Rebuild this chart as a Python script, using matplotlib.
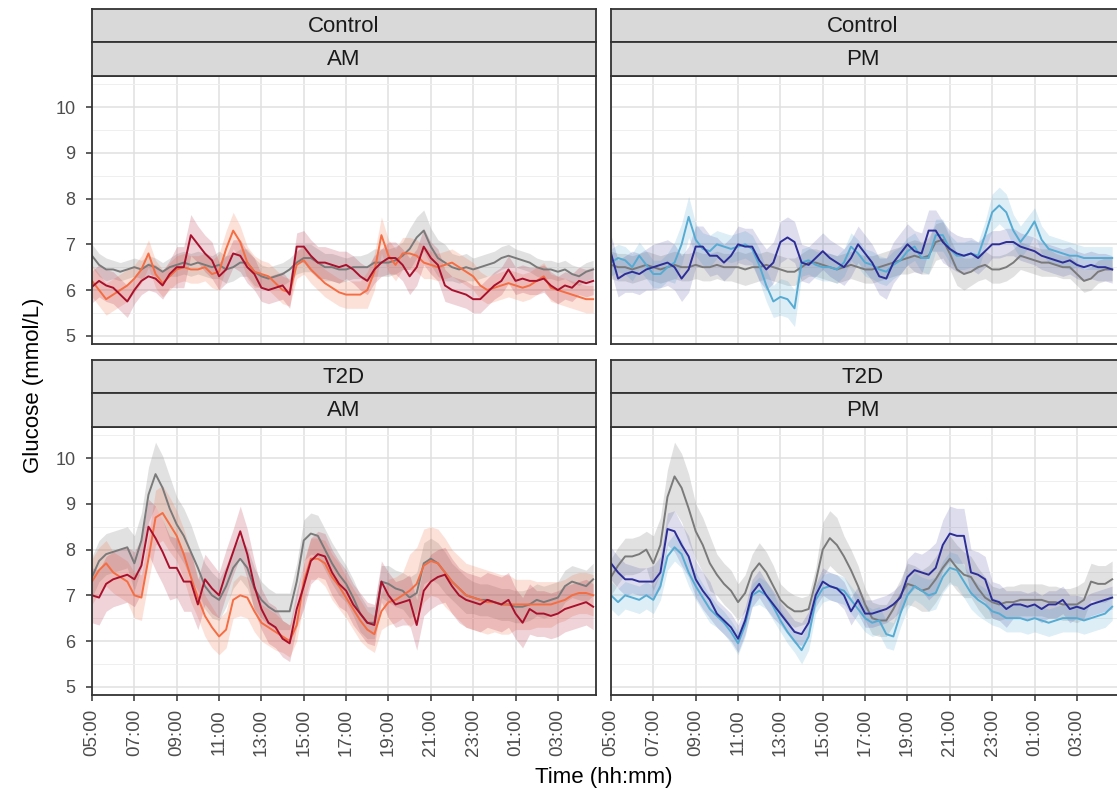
import numpy as np
import matplotlib
matplotlib.use("Agg")
import matplotlib.pyplot as plt

plt.rcParams['font.family'] = ['Liberation Sans', 'DejaVu Sans']

# ---------------- data ----------------
# 20-minute steps starting at 05:00 (hours since 05:00)
hours = np.arange(72) / 3.0
tick_hours = [0, 2, 4, 6, 8, 10, 12, 14, 16, 18, 20, 22]
tick_labels = ['05:00', '07:00', '09:00', '11:00', '13:00', '15:00',
               '17:00', '19:00', '21:00', '23:00', '01:00', '03:00']
y_ticks = [5, 6, 7, 8, 9, 10]
groups = ['Control', 'T2D']
sessions = ['AM', 'PM']

ctrl_am_grey = [
    6.75, 6.55, 6.45, 6.45, 6.40, 6.45, 6.50, 6.45, 6.55, 6.50, 6.40, 6.50,
    6.55, 6.60, 6.55, 6.60, 6.55, 6.50, 6.55, 6.45, 6.50, 6.60, 6.60, 6.40,
    6.30, 6.25, 6.30, 6.35, 6.45, 6.60, 6.70, 6.70, 6.60, 6.50, 6.50, 6.45,
    6.45, 6.50, 6.50, 6.50, 6.60, 6.60, 6.60, 6.65, 6.75, 6.90, 7.15, 7.30,
    6.95, 6.70, 6.60, 6.50, 6.45, 6.50, 6.45, 6.50, 6.55, 6.60, 6.70, 6.75,
    6.70, 6.65, 6.60, 6.50, 6.45, 6.45, 6.40, 6.45, 6.35, 6.30, 6.40, 6.45]
ctrl_am_dark = [
    6.07, 6.20, 6.10, 6.05, 5.90, 5.75, 6.00, 6.20, 6.30, 6.25, 6.10, 6.35,
    6.50, 6.50, 7.20, 7.00, 6.80, 6.65, 6.30, 6.45, 6.80, 6.75, 6.50, 6.35,
    6.05, 6.00, 6.05, 6.10, 5.90, 6.95, 6.95, 6.75, 6.60, 6.60, 6.55, 6.50,
    6.55, 6.45, 6.30, 6.20, 6.45, 6.60, 6.70, 6.70, 6.55, 6.30, 6.50, 6.95,
    6.70, 6.55, 6.10, 6.00, 5.95, 5.90, 5.80, 5.80, 5.95, 6.10, 6.20, 6.45,
    6.20, 6.25, 6.20, 6.20, 6.25, 6.10, 6.00, 6.10, 6.05, 6.20, 6.15, 6.20]
ctrl_am_light = [
    6.20, 6.00, 5.80, 5.90, 6.00, 6.10, 6.25, 6.45, 6.80, 6.35, 6.15, 6.30,
    6.45, 6.50, 6.45, 6.45, 6.50, 6.35, 6.40, 6.90, 7.30, 7.05, 6.60, 6.40,
    6.35, 6.30, 6.15, 6.00, 5.95, 6.55, 6.65, 6.45, 6.30, 6.15, 6.05, 5.95,
    5.90, 5.90, 5.90, 6.00, 6.40, 7.20, 6.75, 6.55, 6.80, 6.80, 6.75, 6.60,
    6.55, 6.50, 6.55, 6.60, 6.50, 6.40, 6.30, 6.10, 6.00, 6.05, 6.10, 6.15,
    6.10, 6.05, 6.10, 6.20, 6.30, 6.05, 6.00, 5.95, 5.90, 5.85, 5.80, 5.80]

ctrl_pm_grey = [
    6.55, 6.50, 6.50, 6.45, 6.50, 6.55, 6.50, 6.45, 6.50, 6.55, 6.50, 6.50,
    6.55, 6.50, 6.50, 6.55, 6.50, 6.50, 6.50, 6.45, 6.50, 6.50, 6.55, 6.50,
    6.45, 6.40, 6.40, 6.50, 6.60, 6.60, 6.55, 6.50, 6.45, 6.50, 6.55, 6.50,
    6.45, 6.45, 6.50, 6.55, 6.60, 6.65, 6.70, 6.75, 6.70, 6.75, 7.05, 7.10,
    6.80, 6.45, 6.35, 6.40, 6.50, 6.55, 6.45, 6.45, 6.50, 6.60, 6.75, 6.70,
    6.65, 6.60, 6.60, 6.55, 6.50, 6.50, 6.35, 6.20, 6.25, 6.40, 6.45, 6.45]
ctrl_pm_dark = [
    6.80, 6.25, 6.35, 6.40, 6.35, 6.45, 6.50, 6.55, 6.60, 6.50, 6.25, 6.45,
    6.95, 6.95, 6.75, 6.75, 6.60, 6.75, 7.00, 6.95, 6.95, 6.65, 6.45, 6.60,
    7.05, 7.15, 7.05, 6.60, 6.55, 6.70, 6.85, 6.70, 6.60, 6.50, 6.70, 7.00,
    6.80, 6.60, 6.30, 6.25, 6.60, 6.80, 7.00, 6.85, 6.80, 7.30, 7.30, 7.05,
    6.90, 6.80, 6.75, 6.80, 6.70, 6.85, 7.00, 7.00, 7.05, 7.05, 6.95, 6.90,
    6.85, 6.75, 6.70, 6.65, 6.60, 6.65, 6.55, 6.50, 6.55, 6.50, 6.50, 6.45]
ctrl_pm_light = [
    6.60, 6.70, 6.65, 6.50, 6.75, 6.55, 6.35, 6.35, 6.50, 6.60, 7.00, 7.60,
    7.10, 6.90, 6.85, 7.00, 6.95, 6.90, 6.95, 7.00, 6.90, 6.55, 6.10, 5.75,
    5.85, 5.80, 5.60, 6.60, 6.65, 6.55, 6.50, 6.50, 6.45, 6.60, 6.95, 6.80,
    6.60, 6.55, 6.45, 6.40, 6.55, 6.65, 6.85, 6.95, 6.70, 6.70, 7.20, 7.20,
    6.90, 6.75, 6.75, 6.80, 6.75, 7.20, 7.70, 7.85, 7.70, 7.30, 7.05, 7.25,
    7.50, 7.10, 6.90, 6.85, 6.80, 6.75, 6.75, 6.70, 6.70, 6.70, 6.70, 6.70]

t2d_am_grey = [
    7.40, 7.75, 7.90, 7.95, 8.00, 8.05, 7.70, 8.20, 9.20, 9.65, 9.35, 8.90,
    8.55, 8.30, 7.95, 7.60, 7.20, 7.00, 6.90, 7.20, 7.60, 7.80, 7.60, 7.15,
    6.90, 6.75, 6.65, 6.65, 6.65, 7.30, 8.20, 8.35, 8.30, 8.00, 7.70, 7.45,
    7.25, 6.95, 6.60, 6.40, 6.40, 7.30, 7.25, 7.15, 7.10, 6.95, 7.05, 7.70,
    7.80, 7.70, 7.50, 7.30, 7.15, 7.00, 6.95, 6.90, 6.90, 6.85, 6.80, 6.80,
    6.75, 6.75, 6.80, 6.90, 6.85, 6.90, 6.95, 7.20, 7.30, 7.25, 7.20, 7.35]
t2d_am_dark = [
    7.00, 6.95, 7.25, 7.35, 7.40, 7.45, 7.35, 7.65, 8.50, 8.25, 7.95, 7.60,
    7.60, 7.30, 7.30, 6.80, 7.35, 7.15, 7.00, 7.50, 7.95, 8.40, 7.90, 7.20,
    6.70, 6.40, 6.30, 6.05, 5.95, 6.70, 7.20, 7.75, 7.90, 7.85, 7.50, 7.25,
    7.10, 6.80, 6.60, 6.40, 6.35, 7.30, 7.00, 6.80, 6.85, 6.90, 6.35, 7.10,
    7.30, 7.40, 7.45, 7.20, 7.00, 6.90, 6.85, 6.80, 6.90, 6.85, 6.80, 6.90,
    6.60, 6.40, 6.70, 6.60, 6.60, 6.55, 6.60, 6.70, 6.75, 6.80, 6.85, 6.75]
t2d_am_light = [
    7.30, 7.55, 7.70, 7.50, 7.40, 7.30, 7.00, 6.95, 7.80, 8.70, 8.80, 8.55,
    8.30, 7.90, 7.40, 6.95, 6.55, 6.30, 6.10, 6.25, 6.90, 7.00, 6.95, 6.65,
    6.40, 6.30, 6.20, 6.10, 6.00, 6.35, 7.30, 7.80, 7.80, 7.70, 7.40, 7.20,
    6.95, 6.70, 6.45, 6.25, 6.15, 6.65, 6.85, 6.90, 7.00, 7.10, 7.25, 7.65,
    7.75, 7.70, 7.50, 7.30, 7.15, 7.00, 6.95, 6.90, 6.85, 6.85, 6.80, 6.80,
    6.80, 6.80, 6.80, 6.80, 6.80, 6.80, 6.85, 6.90, 7.00, 7.05, 7.05, 7.00]

t2d_pm_grey = [
    7.40, 7.65, 7.85, 7.85, 7.90, 8.00, 7.70, 8.10, 9.15, 9.60, 9.35, 8.90,
    8.40, 8.10, 7.70, 7.45, 7.25, 7.10, 6.85, 7.05, 7.50, 7.70, 7.50, 7.20,
    6.90, 6.75, 6.65, 6.65, 6.70, 7.30, 8.00, 8.25, 8.10, 7.85, 7.55, 7.20,
    6.80, 6.50, 6.45, 6.45, 6.70, 7.00, 7.25, 7.20, 7.10, 7.15, 7.35, 7.60,
    7.80, 7.60, 7.45, 7.40, 7.15, 6.95, 6.85, 6.80, 6.85, 6.85, 6.90, 6.90,
    6.90, 6.90, 6.85, 6.85, 6.80, 6.80, 6.80, 6.90, 7.30, 7.25, 7.25, 7.35]
t2d_pm_dark = [
    7.70, 7.50, 7.35, 7.35, 7.30, 7.30, 7.30, 7.50, 8.45, 8.40, 8.10, 7.85,
    7.35, 7.10, 6.90, 6.60, 6.45, 6.30, 6.05, 6.45, 7.05, 7.25, 7.00, 6.80,
    6.60, 6.40, 6.20, 6.15, 6.40, 7.00, 7.30, 7.20, 7.15, 7.00, 6.65, 6.90,
    6.60, 6.60, 6.65, 6.70, 6.80, 6.95, 7.40, 7.55, 7.50, 7.45, 7.60, 8.10,
    8.35, 8.30, 8.30, 7.50, 7.45, 7.35, 6.90, 6.85, 6.70, 6.80, 6.80, 6.75,
    6.80, 6.70, 6.80, 6.80, 6.90, 6.70, 6.75, 6.70, 6.80, 6.85, 6.90, 6.95]
t2d_pm_light = [
    7.00, 6.85, 7.00, 6.95, 6.90, 7.00, 6.90, 7.20, 7.85, 8.05, 7.90, 7.50,
    7.20, 6.95, 6.70, 6.55, 6.40, 6.20, 5.95, 6.35, 7.00, 7.10, 7.00, 6.75,
    6.45, 6.20, 6.00, 5.80, 6.10, 6.90, 7.15, 7.20, 7.15, 7.10, 6.90, 6.70,
    6.50, 6.40, 6.45, 6.15, 6.10, 6.60, 7.00, 7.20, 7.10, 7.00, 7.05, 7.40,
    7.60, 7.55, 7.30, 7.05, 6.90, 6.80, 6.65, 6.60, 6.50, 6.50, 6.50, 6.45,
    6.50, 6.45, 6.40, 6.45, 6.50, 6.50, 6.50, 6.45, 6.50, 6.55, 6.60, 6.75]

# ribbon half-widths, one value per hour
ctrl_am_grey_hw = [0.25, 0.2, 0.2, 0.2, 0.25, 0.25, 0.3, 0.3, 0.25, 0.25, 0.3, 0.3,
                   0.25, 0.3, 0.3, 0.45, 0.4, 0.3, 0.25, 0.25, 0.2, 0.2, 0.2, 0.2]
ctrl_am_dark_hw = [0.35, 0.35, 0.3, 0.3, 0.45, 0.4, 0.3, 0.35, 0.3, 0.3, 0.35, 0.35,
                   0.3, 0.3, 0.35, 0.4, 0.35, 0.3, 0.3, 0.3, 0.3, 0.3, 0.3, 0.3]
ctrl_am_light_hw = [0.35, 0.35, 0.3, 0.3, 0.3, 0.3, 0.4, 0.35, 0.3, 0.3, 0.3, 0.3,
                    0.3, 0.4, 0.35, 0.35, 0.3, 0.3, 0.3, 0.3, 0.3, 0.3, 0.3, 0.3]
ctrl_pm_grey_hw = [0.3, 0.3, 0.3, 0.3, 0.3, 0.3, 0.35, 0.3, 0.3, 0.3, 0.3, 0.3,
                   0.3, 0.3, 0.35, 0.4, 0.35, 0.3, 0.3, 0.3, 0.3, 0.25, 0.25, 0.25]
ctrl_pm_dark_hw = [0.4, 0.45, 0.5, 0.5, 0.45, 0.4, 0.4, 0.45, 0.45, 0.4, 0.4, 0.4,
                   0.4, 0.45, 0.45, 0.45, 0.4, 0.35, 0.3, 0.3, 0.3, 0.3, 0.3, 0.3]
ctrl_pm_light_hw = [0.3, 0.3, 0.3, 0.45, 0.35, 0.3, 0.3, 0.35, 0.4, 0.3, 0.3, 0.3,
                    0.3, 0.3, 0.3, 0.35, 0.3, 0.3, 0.4, 0.35, 0.3, 0.3, 0.25, 0.25]
t2d_am_grey_hw = [0.45, 0.45, 0.6, 0.7, 0.6, 0.5, 0.45, 0.45, 0.4, 0.4, 0.45, 0.45,
                  0.4, 0.35, 0.4, 0.45, 0.45, 0.4, 0.35, 0.35, 0.35, 0.35, 0.35, 0.35]
t2d_am_dark_hw = [0.6, 0.6, 0.6, 0.7, 0.65, 0.55, 0.5, 0.55, 0.45, 0.4, 0.5, 0.5,
                  0.45, 0.45, 0.5, 0.55, 0.6, 0.6, 0.6, 0.6, 0.55, 0.5, 0.5, 0.5]
t2d_am_light_hw = [0.5, 0.45, 0.5, 0.6, 0.55, 0.45, 0.4, 0.45, 0.4, 0.35, 0.45, 0.5,
                   0.45, 0.4, 0.5, 0.8, 0.75, 0.7, 0.7, 0.65, 0.55, 0.5, 0.45, 0.45]
t2d_pm_grey_hw = [0.4, 0.4, 0.6, 0.75, 0.6, 0.45, 0.4, 0.45, 0.35, 0.3, 0.6, 0.45,
                  0.35, 0.35, 0.45, 0.5, 0.5, 0.45, 0.35, 0.35, 0.35, 0.35, 0.4, 0.4]
t2d_pm_dark_hw = [0.35, 0.3, 0.35, 0.45, 0.4, 0.3, 0.3, 0.3, 0.25, 0.25, 0.3, 0.3,
                  0.3, 0.3, 0.4, 0.55, 0.6, 0.5, 0.4, 0.3, 0.3, 0.3, 0.25, 0.25]
t2d_pm_light_hw = [0.3, 0.3, 0.3, 0.3, 0.3, 0.25, 0.25, 0.3, 0.25, 0.3, 0.3, 0.3,
                   0.3, 0.3, 0.3, 0.35, 0.35, 0.35, 0.3, 0.3, 0.3, 0.3, 0.3, 0.3]

# ---------------- styling ----------------
GREY = '#7a7a7a'
DARKRED = '#a8102c'
ORANGE = '#f46d43'
DARKBLUE = '#2c2d96'
LIGHTBLUE = '#56abd3'

W, H = 1117, 790
fig = plt.figure(figsize=(W / 100, H / 100), dpi=100)


def box(x0, y0, x1, y1):
    return [x0 / W, 1 - y1 / H, (x1 - x0) / W, (y1 - y0) / H]


cols_px = [(92, 596), (611, 1121)]
rows_px = [dict(panel=(76, 344), s1=(9, 42), s2=(42, 76)),
           dict(panel=(427, 695), s1=(360, 393), s2=(393, 427))]
px_per_hour = 504 / 23.8

panel_series = {
    (0, 0): [(ctrl_am_grey, ctrl_am_grey_hw, GREY, 0.22),
             (ctrl_am_light, ctrl_am_light_hw, ORANGE, 0.2),
             (ctrl_am_dark, ctrl_am_dark_hw, DARKRED, 0.18)],
    (0, 1): [(ctrl_pm_grey, ctrl_pm_grey_hw, GREY, 0.22),
             (ctrl_pm_light, ctrl_pm_light_hw, LIGHTBLUE, 0.2),
             (ctrl_pm_dark, ctrl_pm_dark_hw, DARKBLUE, 0.16)],
    (1, 0): [(t2d_am_grey, t2d_am_grey_hw, GREY, 0.22),
             (t2d_am_light, t2d_am_light_hw, ORANGE, 0.2),
             (t2d_am_dark, t2d_am_dark_hw, DARKRED, 0.18)],
    (1, 1): [(t2d_pm_grey, t2d_pm_grey_hw, GREY, 0.22),
             (t2d_pm_light, t2d_pm_light_hw, LIGHTBLUE, 0.2),
             (t2d_pm_dark, t2d_pm_dark_hw, DARKBLUE, 0.16)],
}

EDGE = '#333333'

for r, rp in enumerate(rows_px):
    for c, (x0, x1) in enumerate(cols_px):
        y0, y1 = rp['panel']
        ax = fig.add_axes(box(x0, y0, x1, y1))
        ax.set_axisbelow(True)
        for (vals, hw_h, col, alpha) in panel_series[(r, c)]:
            y = np.asarray(vals)
            hw = np.repeat(np.asarray(hw_h), 3)
            ax.fill_between(hours, y - hw, y + hw, color=col, alpha=alpha,
                            linewidth=0)
        for (vals, hw_h, col, alpha) in panel_series[(r, c)]:
            ax.plot(hours, vals, color=col, lw=1.4, solid_joinstyle='round')

        ax.set_xlim(0, (x1 - x0) / px_per_hour)
        ax.set_ylim(4.82, 10.68)
        ax.set_xticks(tick_hours)
        ax.set_yticks(y_ticks)
        ax.set_yticks([5.5, 6.5, 7.5, 8.5, 9.5, 10.5], minor=True)
        ax.grid(which='major', color='#e0e0e0', lw=1.1)
        ax.grid(which='minor', axis='y', color='#efefef', lw=0.7)
        ax.tick_params(which='minor', length=0)
        for sp in ax.spines.values():
            sp.set_color(EDGE)
            sp.set_linewidth(1.3)
        ax.tick_params(which='major', length=4, width=1.1, color=EDGE,
                       labelsize=13, labelcolor='#4d4d4d')
        ax.tick_params(axis='y', pad=8)
        ax.tick_params(axis='x', pad=6, labelsize=13.5)
        if r == 1:
            ax.set_xticklabels(tick_labels, rotation=90)
        else:
            ax.tick_params(axis='x', bottom=False, labelbottom=False)
        if c == 0:
            ax.set_yticklabels([str(v) for v in y_ticks])
        else:
            ax.tick_params(axis='y', left=False, labelleft=False)

        # facet strips
        for key, label in (('s1', groups[r]), ('s2', sessions[c])):
            sy0, sy1 = rp[key]
            sax = fig.add_axes(box(x0, sy0, x1, sy1))
            sax.set_facecolor('#d9d9d9')
            sax.set_xticks([])
            sax.set_yticks([])
            for sp in sax.spines.values():
                sp.set_color(EDGE)
                sp.set_linewidth(1.3)
            cx = 0.5 if c == 0 else (504 / 2) / (x1 - x0)
            sax.text(cx, 0.48, label, ha='center', va='center',
                     fontsize=16, color='#1a1a1a', transform=sax.transAxes)

fig.text(34 / W, 1 - 385 / H, 'Glucose (mmol/L)', rotation=90,
         ha='center', va='center', fontsize=16, color='black')
fig.text(604 / W, 1 - 777 / H, 'Time (hh:mm)', ha='center', va='center',
         fontsize=16, color='black')

fig.savefig('out.png', dpi=100)
